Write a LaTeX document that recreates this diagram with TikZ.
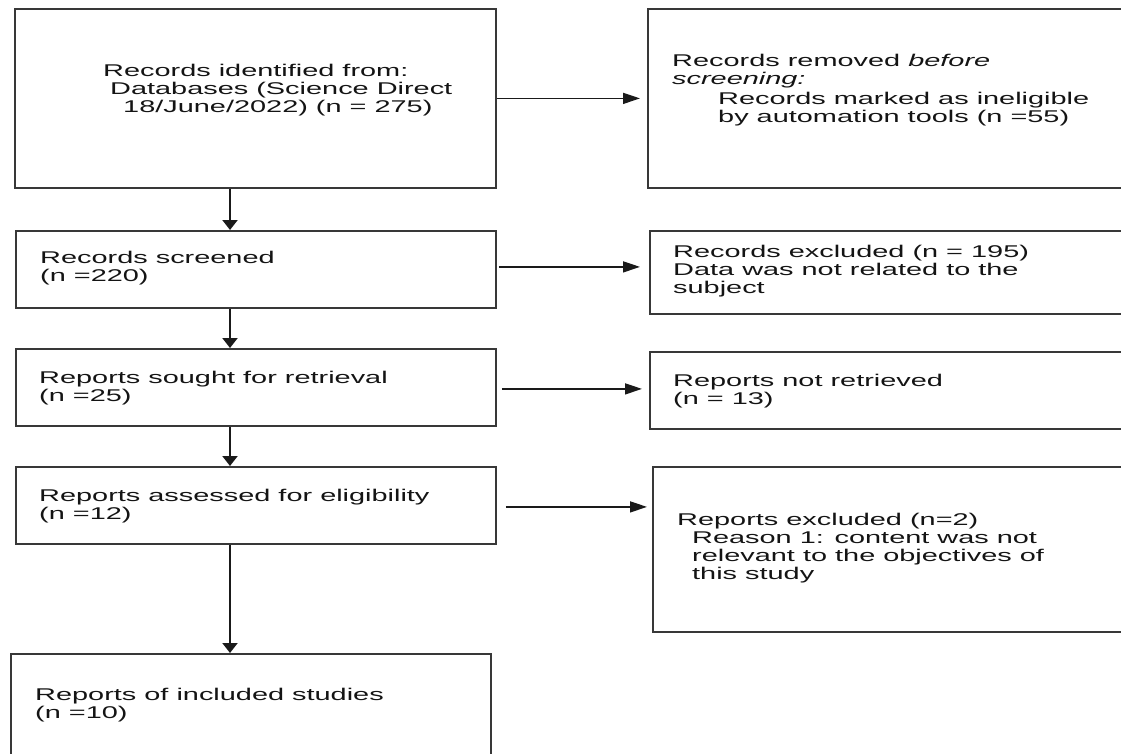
\documentclass[tikz,border=0pt]{standalone}
\usepackage{fontspec}
\setmainfont{Liberation Sans}[FakeStretch=1.7]
\usetikzlibrary{arrows.meta}
\definecolor{boxgray}{HTML}{383838}
\definecolor{txtgray}{HTML}{141414}
\definecolor{arrgray}{HTML}{1A1A1A}
\begin{document}
\begin{tikzpicture}[x=1pt,y=-1pt,
  box/.style={draw=boxgray,line width=1.8pt,rectangle,inner sep=0pt,anchor=north west},
  txt/.style={anchor=base west,inner sep=0pt,text=txtgray,font=\fontsize{17}{18}\selectfont},
  harr/.style={draw=arrgray,line width=1.4pt,-{Triangle[length=17pt,width=11pt]}},
  varr/.style={draw=arrgray,line width=2pt,-{Triangle[length=10pt,width=15pt]}}]
\useasboundingbox (0,0) rectangle (1121,753);
\clip (0,0) rectangle (1121,753);
% boxes
\node[box,minimum width=481pt,minimum height=179pt] (b1) at (14,8) {};
\node[box,minimum width=520pt,minimum height=179pt] (r1) at (647,8) {};
\node[box,minimum width=480pt,minimum height=77pt] (b2) at (15,230) {};
\node[box,minimum width=520pt,minimum height=83pt] (r2) at (649,230) {};
\node[box,minimum width=480pt,minimum height=77pt] (b3) at (15,348) {};
\node[box,minimum width=520pt,minimum height=77pt] (r3) at (649,351) {};
\node[box,minimum width=480pt,minimum height=77pt] (b4) at (15,466) {};
\node[box,minimum width=520pt,minimum height=165pt] (r4) at (652,466) {};
\node[box,minimum width=480pt,minimum height=140pt] (b5) at (10,653) {};
% texts
\node[txt] (t1) at (103,76) {\begin{tabular}[t]{@{}l@{}}Records identified from:\\\hspace*{7pt}Databases (Science Direct\\\hspace*{20pt}18/June/2022) (n = 275)\end{tabular}};
\node[txt] (tr1) at (672,66) {\begin{tabular}[t]{@{}l@{}}Records removed \textit{before}\\\textit{screening:}\\[2.5pt]\hspace*{46pt}Records marked as ineligible\\\hspace*{46pt}by automation tools (n =55)\end{tabular}};
\node[txt] (t2) at (40,263) {\begin{tabular}[t]{@{}l@{}}Records screened\\(n =220)\end{tabular}};
\node[txt] (tr2) at (673,257) {\begin{tabular}[t]{@{}l@{}}Records excluded (n = 195)\\Data was not related to the\\subject\end{tabular}};
\node[txt] (t3) at (39,383) {\begin{tabular}[t]{@{}l@{}}Reports sought for retrieval\\(n =25)\end{tabular}};
\node[txt] (tr3) at (673,386) {\begin{tabular}[t]{@{}l@{}}Reports not retrieved\\(n = 13)\end{tabular}};
\node[txt] (t4) at (39,501) {\begin{tabular}[t]{@{}l@{}}Reports assessed for eligibility\\(n =12)\end{tabular}};
\node[txt] (tr4) at (677,525) {\begin{tabular}[t]{@{}l@{}}Reports excluded (n=2)\\\hspace*{15pt}Reason 1: content was not\\\hspace*{15pt}relevant to the objectives of\\\hspace*{15pt}this study\end{tabular}};
\node[txt] (t5) at (35,700) {\begin{tabular}[t]{@{}l@{}}Reports of included studies\\(n =10)\end{tabular}};
% vertical connectors
\coordinate (vx) at (230,0);
\draw[varr] (b1.south -| vx) -- (b2.north -| vx);
\draw[varr] (b2.south -| vx) -- (b3.north -| vx);
\draw[varr] (b3.south -| vx) -- (b4.north -| vx);
\draw[varr] (b4.south -| vx) -- (b5.north -| vx);
% horizontal connectors
\draw[harr,shorten >=7pt] (b1.east) -- (b1.east -| r1.west);
\draw[harr,shorten <=2pt,shorten >=9pt] ([yshift=2.5pt]b2.east) -- ([yshift=2.5pt]b2.east -| r2.west);
\draw[harr,shorten <=5pt,shorten >=7pt] ([yshift=-1.5pt]b3.east) -- ([yshift=-1.5pt]b3.east -| r3.west);
\draw[harr,shorten <=9pt,shorten >=5pt] ([yshift=-1.5pt]b4.east) -- ([yshift=-1.5pt]b4.east -| r4.west);
\end{tikzpicture}
\end{document}
